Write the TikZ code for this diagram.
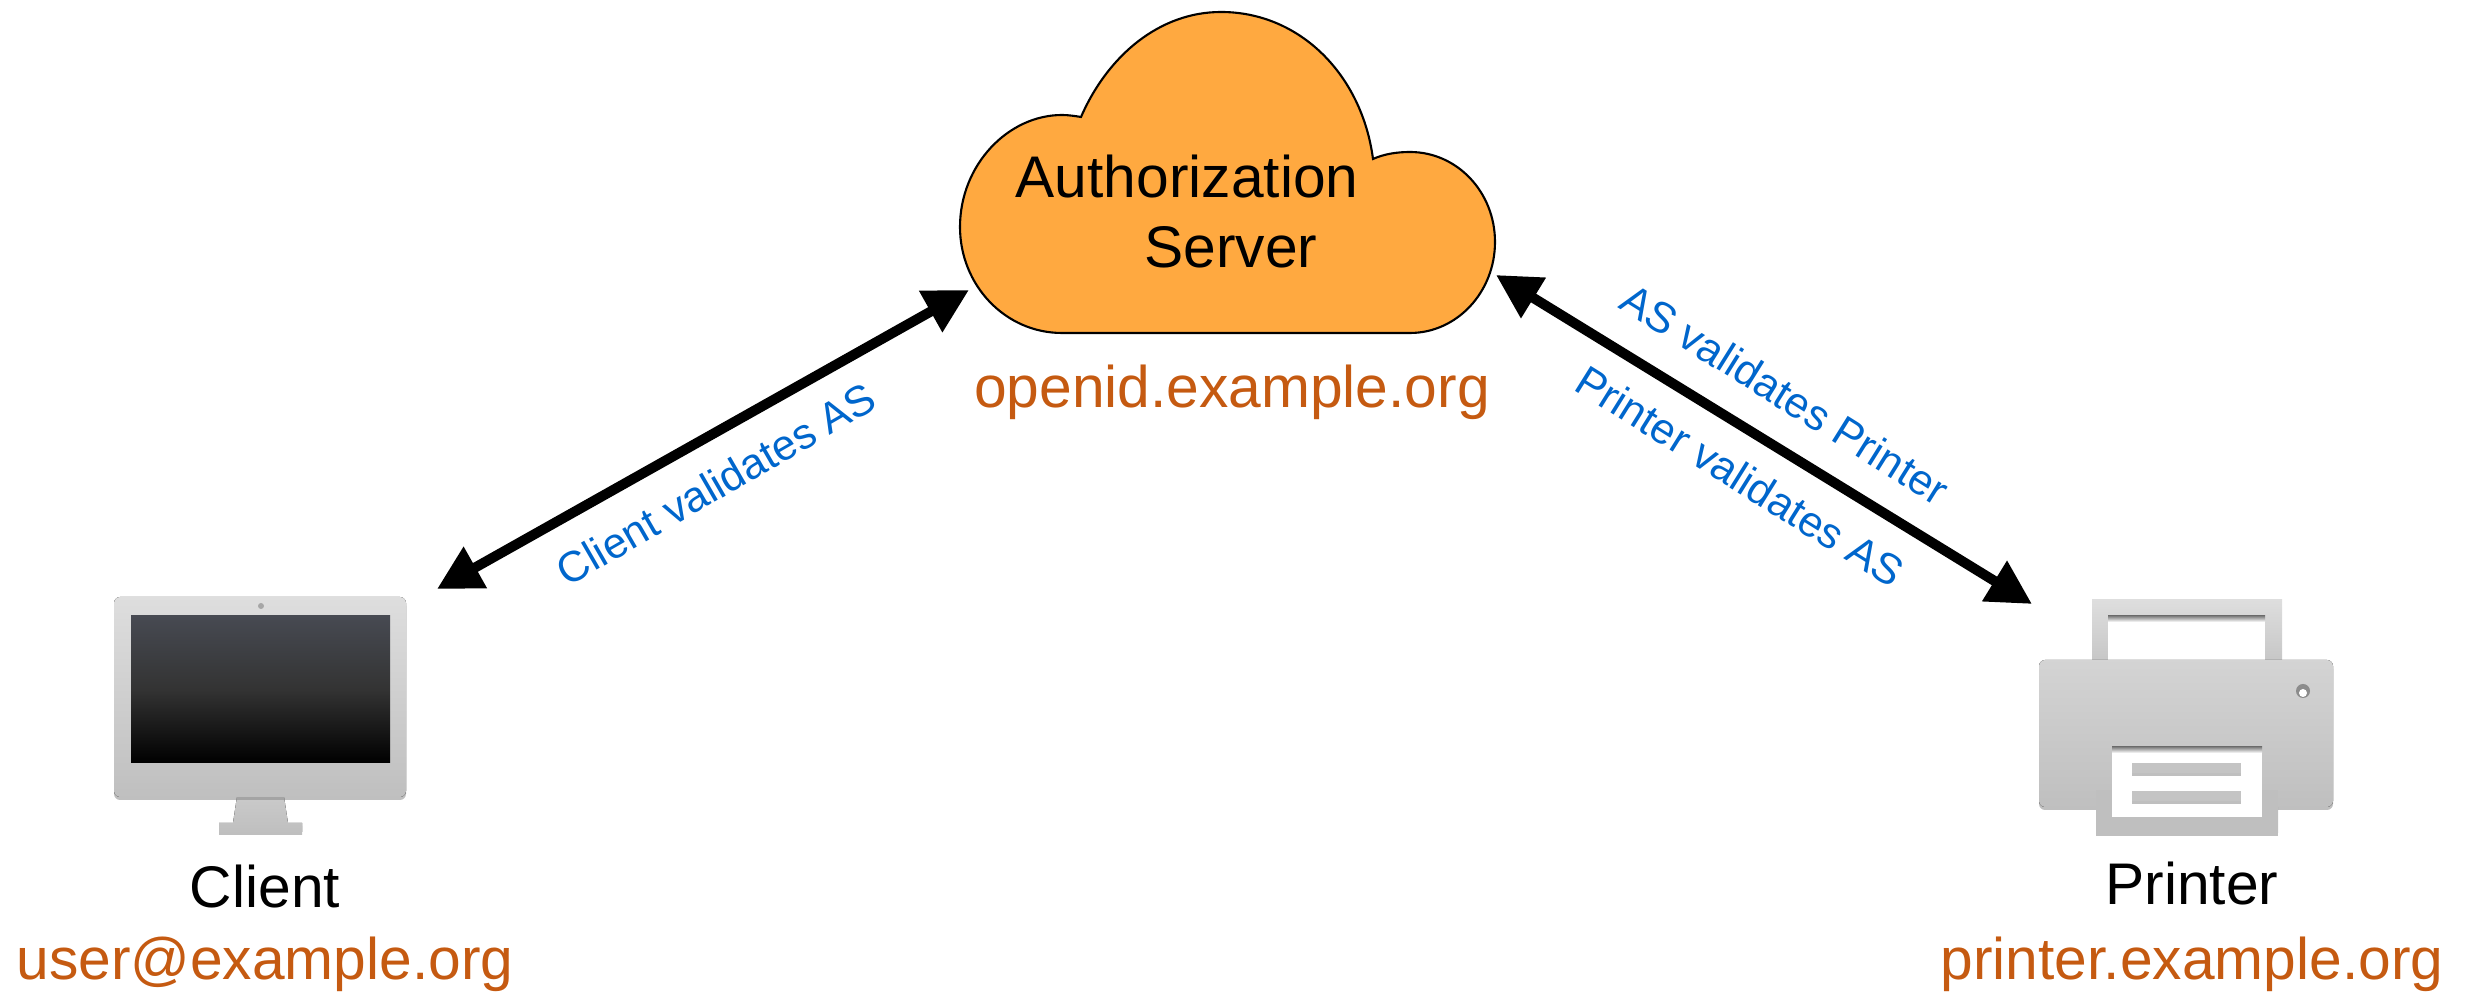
\documentclass[tikz,border=0pt]{standalone}
\usepackage{fontspec}
\setmainfont{Liberation Sans}
\usetikzlibrary{arrows.meta,shadows}

\definecolor{cloudfill}{HTML}{FFA940}
\definecolor{hostcolor}{HTML}{C55A11}
\definecolor{linkcolor}{HTML}{0066CC}
\definecolor{screentop}{HTML}{474A52}

\tikzset{
  bigtext/.style={anchor=base,inner sep=0pt,font=\fontsize{16.7}{20}\selectfont},
  hosttext/.style={bigtext,text=hostcolor},
  linktext/.style={inner sep=0pt,text=linkcolor,font=\fontsize{12.2}{15}\selectfont},
  link/.style={line width=0.1cm,{Triangle[length=0.44cm,width=0.45cm]}-{Triangle[length=0.44cm,width=0.45cm]}},
  softshadow/.style={drop shadow={shadow xshift=0cm,shadow yshift=-0.03cm,opacity=0.5}},
  greypart/.style={top color=#1,bottom color=black!25,draw=none,softshadow},
  innershade/.style={top color=black!50,bottom color=white}
}

\begin{document}
\begin{tikzpicture}[x=0.01cm,y=-0.01cm]

\useasboundingbox (0,0) rectangle (2474,992);

% Cloud
\draw [fill=cloudfill,line width=0.6pt] (1062,333) .. controls (1005,333) and (960,285) .. (960,227)
  .. controls (960,165) and (1008,115) .. (1062,115) .. controls (1068,115) and (1075,116) .. (1081,117)
  .. controls (1108,55) and (1160,12) .. (1221,12) .. controls (1300,12) and (1362,75) .. (1373,159)
  .. controls (1384,154) and (1397,152) .. (1410,152) .. controls (1457,152) and (1495,192) .. (1495,242)
  .. controls (1495,292) and (1457,333) .. (1410,333) -- cycle;

\node [bigtext] (authtext)   at (1187,198) {Authorization};
\node [bigtext] (servertext) at (1231,268) {Server};
\node [hosttext] (authhost)  at (1232,408) {openid.example.org};

% Monitor
\fill [greypart=black!20] (238,790) -- (283,790) -- (288,823) -- (302,823) -- (302,832) -- (219,832) -- (219,823) -- (233,823) -- cycle;
\fill [greypart=black!13,rounded corners=0.06cm] (114,597) rectangle (406,797);
\fill [top color=screentop,bottom color=black,middle color=black!80] (131,616) rectangle (390,763);
\fill [black!35] (261,606) circle (3);

\node [bigtext] (clienttext) at (265,908) {Client};
\node [hosttext] (clienthost) at (265,980) {user@example.org};

% Printer
\fill [greypart=black!13] (2092,600) rectangle (2282,680);
\fill [white] (2108,616) rectangle (2265,680);
\fill [innershade] (2108,616) rectangle (2265,622);
\fill [greypart=black!25] (2096,790) rectangle (2278,833);
\fill [greypart=black!17,rounded corners=0.06cm] (2039,660) rectangle (2333,807);
\fill [black!25] (2096,790) rectangle (2278,833);
\fill [white] (2112,747) rectangle (2262,817);
\fill [innershade] (2112,747) rectangle (2262,753);
\fill [black!23,softshadow] (2132,763) rectangle (2241,773);
\fill [black!23,softshadow] (2132,791) rectangle (2241,801);
\fill [black!45] (2303,691) circle (7);
\fill [white] (2303,693) circle (4);

\node [bigtext] (printertext) at (2192,905) {Printer};
\node [hosttext] (printerhost) at (2192,980) {printer.example.org};

% Links
\coordinate (clientend)  at (437,589);
\coordinate (authleft)   at (969,290);
\coordinate (authright)  at (1496,275);
\coordinate (printerend) at (2032,604);

\draw [link] (clientend) -- (authleft);
\draw [link] (authright) -- (printerend);

\node [linktext,rotate=30]  (clientlabel)  at (716,484)  {Client validates AS};
\node [linktext,rotate=-32] (aslabel)      at (1785,394) {AS validates Printer};
\node [linktext,rotate=-32] (printerlabel) at (1740,476) {Printer validates AS};

\end{tikzpicture}
\end{document}
